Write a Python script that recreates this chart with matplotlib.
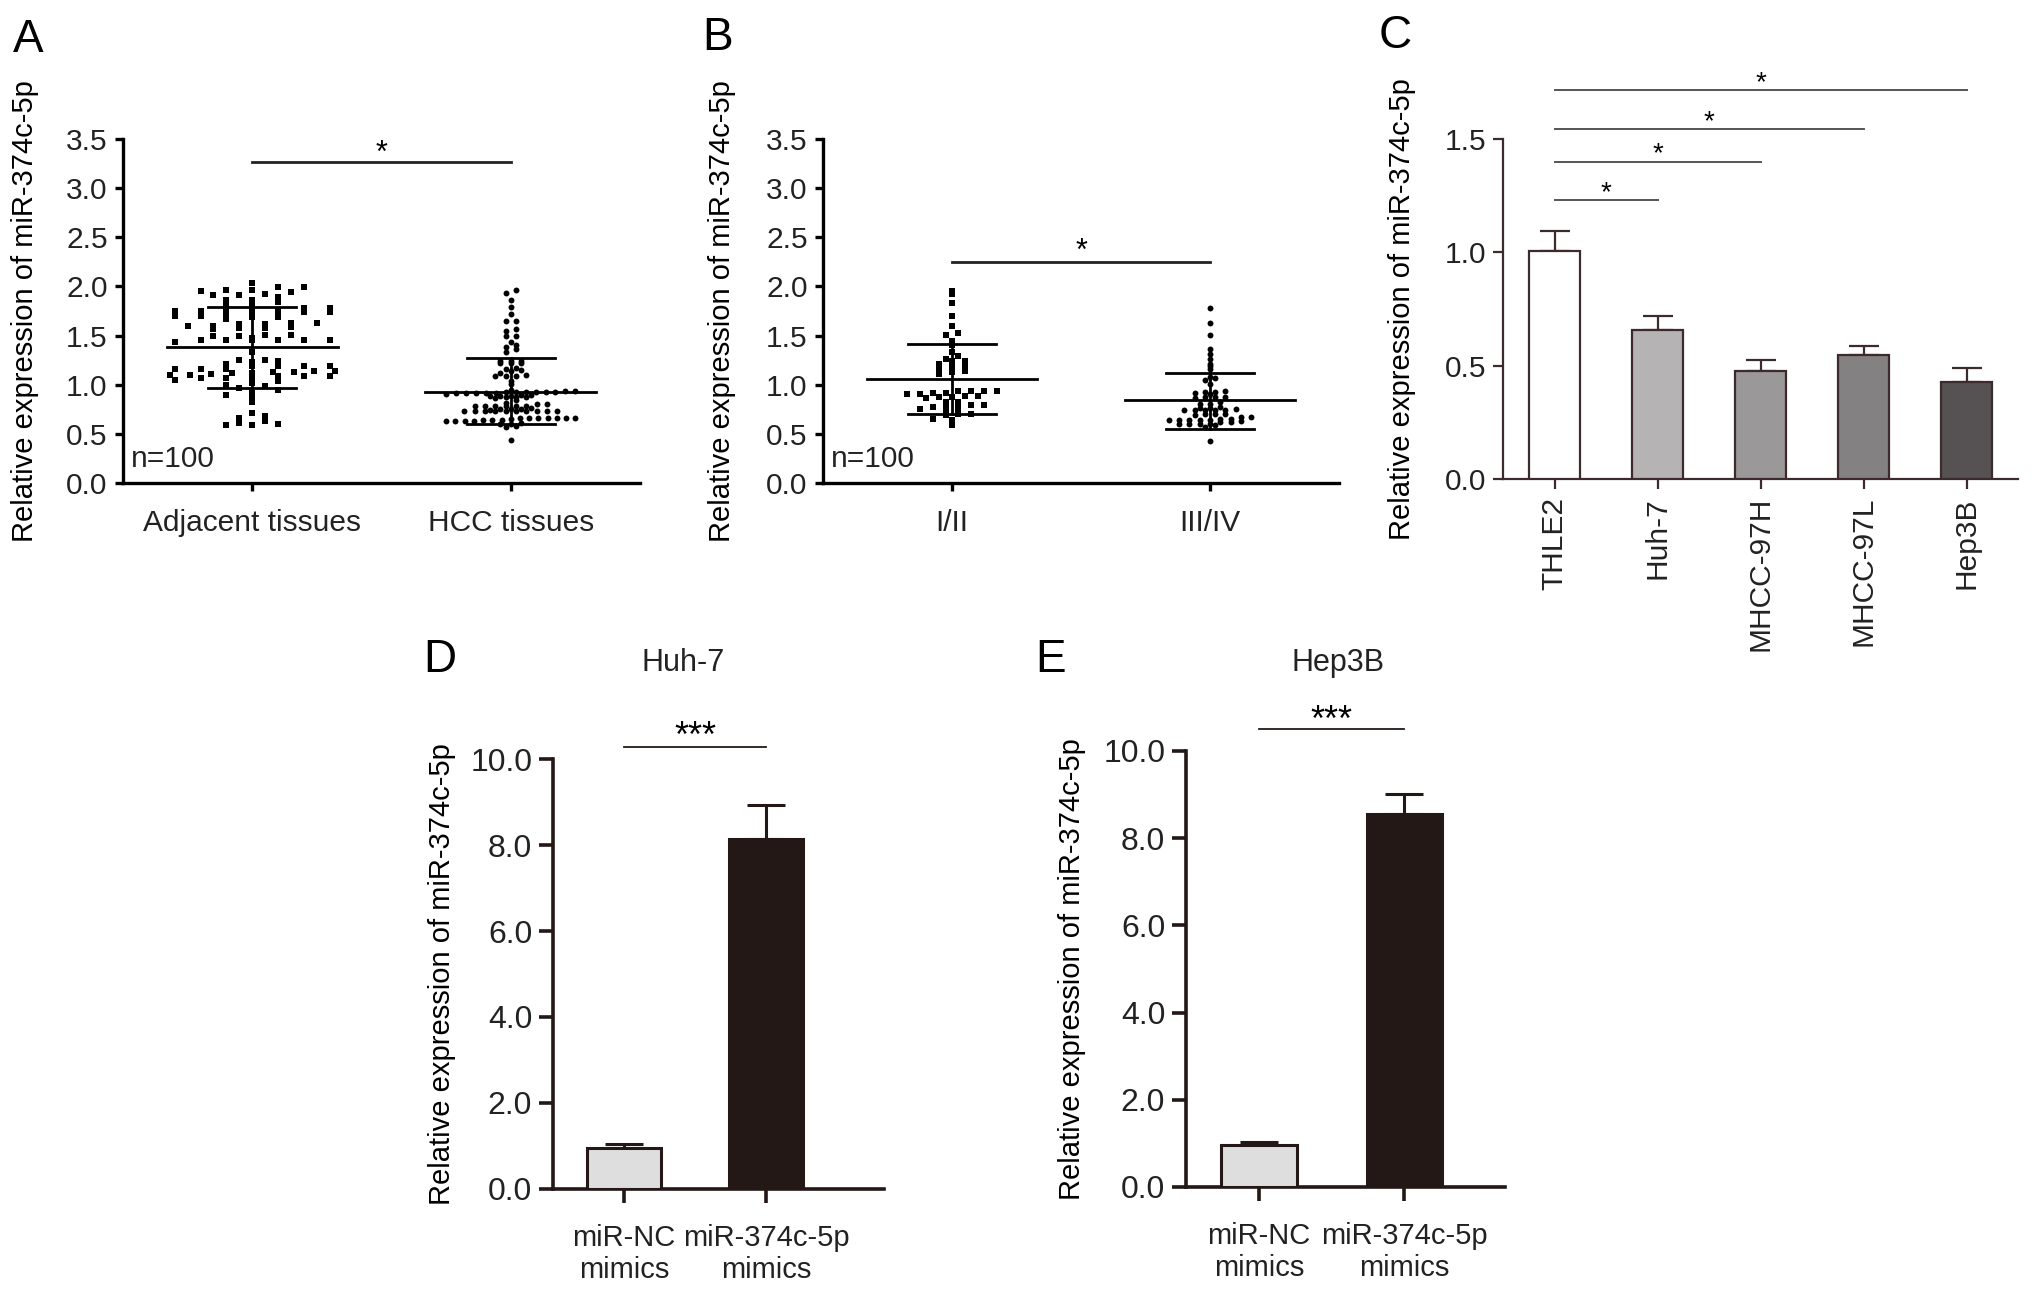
import numpy as np
import matplotlib
matplotlib.use('Agg')
import matplotlib.pyplot as plt

# ---- data ----
adjacent = [1.78, 1.69, 1.13,
            1.74, 1.23, 1.07,
            1.86, 1.78, 1.70, 1.62, 1.45, 1.16, 1.08,
            1.95, 1.75, 1.59, 1.25, 1.14,
            1.91, 1.74, 1.60, 1.51, 1.45, 1.16, 1.10, 1.04, 0.97, 0.92, 0.68, 0.59,
            1.99, 1.92, 1.75, 1.60, 1.51, 1.45, 1.10, 0.87, 0.71, 0.61,
            1.99, 1.84, 1.75, 1.70, 1.63, 1.57, 1.50, 1.43, 1.33, 1.24, 1.19, 1.12,
            1.05, 1.00, 0.90, 0.82, 0.60,
            2.03, 1.94, 1.67, 1.62, 1.50, 1.45, 1.16, 1.09, 1.02, 0.95, 0.66, 0.59,
            1.91, 1.75, 1.69, 1.63, 1.48, 1.19, 1.12, 1.07, 0.99,
            1.96, 1.89, 1.80, 1.72, 1.58, 1.45, 1.21, 1.14, 1.09, 0.63,
            1.96, 1.86, 1.75, 1.58, 1.45, 1.25, 1.19, 1.11,
            1.74, 1.19, 1.09,
            1.80, 1.70, 1.13]
hcc = [1.96, 1.93, 1.86, 1.79, 1.72, 1.65, 1.65, 1.57, 1.55, 1.50, 1.50, 1.43,
       1.40, 1.38, 1.36, 1.33,
       1.24, 1.22, 1.22, 1.24, 1.22, 1.24,
       1.16, 1.17, 1.14, 1.12, 1.15,
       1.09, 1.09, 1.10, 1.09, 1.04, 1.01,
       0.94, 0.92, 0.92, 0.90, 0.93, 0.93, 0.93, 0.93, 0.92, 0.93, 0.92, 0.95, 0.93, 0.94,
       0.90, 0.87, 0.89, 0.86, 0.87, 0.89, 0.87, 0.92, 0.91, 0.89, 0.84,
       0.81, 0.78, 0.78, 0.78, 0.78, 0.80, 0.78, 0.80, 0.76, 0.78,
       0.73, 0.75, 0.74, 0.73, 0.75, 0.75, 0.73, 0.73, 0.73, 0.73, 0.73, 0.73, 0.73, 0.73,
       0.64, 0.66, 0.63, 0.66, 0.63, 0.65, 0.66, 0.66, 0.66, 0.66, 0.66, 0.63, 0.64, 0.64,
       0.57, 0.61, 0.63, 0.58, 0.60, 0.60,
       0.44]
stage12 = [1.95, 1.92, 1.83, 1.70, 1.60, 1.51, 1.53, 1.44, 1.40,
           1.33, 1.26, 1.21, 1.14, 1.24, 1.17, 1.18, 1.29, 1.24, 1.19, 1.13, 1.11,
           0.94, 0.94, 0.89, 0.91, 0.94, 0.87, 0.82, 0.77, 0.92, 0.92, 0.86, 0.91,
           0.94, 0.87, 0.89, 0.82, 0.75, 0.79, 0.72, 0.77, 0.70, 0.64, 0.59, 0.74,
           0.65, 0.79, 0.69, 0.77, 0.70]
stage34 = [1.78, 1.63, 1.51, 1.36, 1.31, 1.26, 1.21, 1.07, 1.01, 0.94, 0.87, 0.80,
           0.74, 0.69, 0.64, 0.59, 0.43,
           1.19, 1.08, 1.16, 1.05,
           0.93, 0.86, 0.87, 0.93, 0.87, 0.91, 0.92, 0.80,
           0.82, 0.74, 0.75, 0.65, 0.65, 0.62, 0.70, 0.64, 0.74, 0.67, 0.60, 0.76,
           0.60, 0.57, 0.77, 0.70, 0.64, 0.74, 0.64, 0.70, 0.60, 0.74, 0.67, 0.60,
           0.76, 0.62, 0.63, 0.64]

# mean and SD lines as drawn (mean, lower, upper)
tissue_stats = [(1.38, 0.97, 1.79), (0.93, 0.60, 1.27)]
stage_stats = [(1.06, 0.70, 1.41), (0.84, 0.55, 1.12)]
tissue_labels = ['Adjacent tissues', 'HCC tissues']
stage_labels = ['I/II', 'III/IV']

cell_lines = ['THLE2', 'Huh-7', 'MHCC-97H', 'MHCC-97L', 'Hep3B']
cell_mean = [1.007, 0.659, 0.478, 0.545, 0.430]
cell_err = [0.086, 0.061, 0.047, 0.042, 0.061]
cell_colors = ['#ffffff', '#b5b3b3', '#9a9898', '#838181', '#565253']
cell_sig_y = [1.229, 1.40, 1.544, 1.716]

mimic_labels = ['miR-NC\nmimics', 'miR-374c-5p\nmimics']
huh7_mean = [0.95, 8.14]
huh7_err = [0.10, 0.78]
hep3b_mean = [0.96, 8.55]
hep3b_err = [0.08, 0.46]

# ---- style ----
plt.rcParams['font.family'] = ['Liberation Sans', 'DejaVu Sans']
plt.rc('font', size=21)
plt.rc('xtick', labelsize=21.5)
plt.rc('ytick', labelsize=21.5)

DARK = '#231815'
W, H = 2032, 1296
fig = plt.figure(figsize=(W / 100, H / 100), dpi=100)


def box(x0, x1, ytop, ybot):
    # pixel box -> figure fractions
    return [x0 / W, 1 - ybot / H, (x1 - x0) / W, (ybot - ytop) / H]


def swarm(vals, bin_h, step, max_w):
    vals = np.asarray(vals, dtype=float)
    xs = np.zeros(len(vals))
    bins = np.floor(vals / bin_h).astype(int)
    for b in np.unique(bins):
        idx = np.where(bins == b)[0]
        idx = idx[np.argsort(vals[idx])]
        k = len(idx)
        s = step if k < 2 else min(step, 2 * max_w / (k - 1))
        xs[idx] = (np.arange(k) - (k - 1) / 2) * s
    return xs


def style_axes(ax, color, lw, ticklen, labelpad_x):
    for side in ['top', 'right']:
        ax.spines[side].set_visible(False)
    for side in ['left', 'bottom']:
        ax.spines[side].set_linewidth(lw)
        ax.spines[side].set_color(color)
    ax.tick_params(axis='both', colors=color, width=lw, length=ticklen,
                   labelcolor='#222222')
    ax.tick_params(axis='y', pad=5)
    ax.tick_params(axis='x', pad=labelpad_x)


def scatter_panel(ax, groups, stats, labels, markers, sizes, swarm_args,
                  sig_y, star_y, ylabel_x):
    for i, vals in enumerate(groups):
        xs = swarm(vals, *swarm_args[i]) + i
        ax.scatter(xs, vals, marker=markers[i], s=sizes[i], color='black',
                   linewidths=0, zorder=3)
        m, lo, hi = stats[i]
        ax.plot([i - 0.33, i + 0.33], [m, m], color='black', lw=2, zorder=4)
        ax.plot([i - 0.17, i + 0.17], [lo, lo], color='black', lw=2, zorder=4)
        ax.plot([i - 0.17, i + 0.17], [hi, hi], color='black', lw=2, zorder=4)
        ax.plot([i, i], [lo, hi], color='black', lw=2, zorder=4)
    ax.plot([0, 1], [sig_y, sig_y], color='#222222', lw=2)
    ax.text(0.5, star_y, '*', ha='center', va='center', fontsize=22)
    ax.set_xlim(-0.5, 1.5)
    ax.set_ylim(0, 3.5)
    ax.set_yticks(np.arange(0, 3.51, 0.5))
    ax.set_yticklabels(['%.1f' % v for v in np.arange(0, 3.51, 0.5)])
    ax.set_xticks([0, 1])
    ax.set_xticklabels(labels)
    ax.set_ylabel('Relative expression of miR-374c-5p', fontsize=21)
    ax.yaxis.set_label_coords(ylabel_x, 0.5)
    ax.text(0.015, 0.07, 'n=100', transform=ax.transAxes, ha='left',
            va='center', fontsize=21.5, color='#222222')
    style_axes(ax, 'black', 2.4, 6, 13)


# ---- A ----
axA = fig.add_axes(box(123, 640, 139, 483))
scatter_panel(axA, [adjacent, hcc], tissue_stats, tissue_labels, ['s', 'o'],
              [20, 18], [(0.05, 0.1, 0.32), (0.035, 0.04, 0.25)],
              3.27, 3.35, (39 - 123) / 517)

# ---- B ----
axB = fig.add_axes(box(823, 1339, 139, 483))
scatter_panel(axB, [stage12, stage34], stage_stats, stage_labels, ['s', 'o'],
              [20, 18], [(0.05, 0.05, 0.3), (0.04, 0.04, 0.3)],
              2.25, 2.35, (736 - 823) / 516)

# ---- C ----
axC = fig.add_axes(box(1503, 2018, 139, 479))
xc = np.arange(len(cell_lines))
axC.bar(xc, cell_mean, width=0.5, color=cell_colors, edgecolor='#3c2a2c',
        linewidth=1.6, zorder=3)
axC.errorbar(xc, cell_mean, yerr=[np.zeros(len(xc)), cell_err], fmt='none',
             ecolor='#3c2a2c', elinewidth=1.6, capsize=11, capthick=1.6, zorder=2)
for j, y in enumerate(cell_sig_y):
    axC.plot([0, j + 1], [y, y], color='#555555', lw=1.4, clip_on=False)
    axC.text((j + 1) / 2, y + 0.032, '*', ha='center', va='center',
             fontsize=20, clip_on=False)
axC.set_xlim(-0.5, 4.5)
axC.set_ylim(0, 1.5)
axC.set_yticks([0, 0.5, 1.0, 1.5])
axC.set_yticklabels(['0.0', '0.5', '1.0', '1.5'])
axC.set_xticks(xc)
axC.set_xticklabels(cell_lines, rotation=90, ha='center', va='top')
axC.set_ylabel('Relative expression of miR-374c-5p', fontsize=21)
axC.yaxis.set_label_coords((1416 - 1503) / 515, 0.5)
style_axes(axC, '#3c2a2c', 1.6, 7, 6)


# ---- D and E ----
def mimic_panel(ax, means, errs, title, title_x, title_y, sig_y, star_y,
                xmax, ylabel_x):
    x = np.arange(2)
    ax.bar(x, means, width=0.52, color=['#dedede', DARK], edgecolor=DARK,
           linewidth=2.2, zorder=3)
    ax.errorbar(x, means, yerr=[np.zeros(2), errs], fmt='none', ecolor=DARK,
                elinewidth=2.2, capsize=14, capthick=2.2, zorder=2)
    ax.plot([0, 1], [sig_y, sig_y], color=DARK, lw=1.3, clip_on=False)
    ax.text(0.5, star_y, '***', ha='center', va='center', fontsize=26,
            clip_on=False)
    ax.set_xlim(-0.5, xmax)
    ax.set_ylim(0, 10)
    ax.set_yticks(np.arange(0, 10.1, 2))
    ax.set_yticklabels(['%.1f' % v for v in np.arange(0, 10.1, 2)],
                       fontsize=23)
    ax.set_xticks(x)
    ax.set_xticklabels(mimic_labels, linespacing=1.2, fontsize=21)
    ax.set_ylabel('Relative expression of miR-374c-5p', fontsize=21)
    ax.yaxis.set_label_coords(ylabel_x, 0.5)
    ax.text(title_x, title_y, title, transform=ax.transAxes, ha='center',
            va='center', fontsize=22, color='#222222')
    style_axes(ax, DARK, 2.6, 10, 15)


axD = fig.add_axes(box(553, 884, 759, 1189))
mimic_panel(axD, huh7_mean, huh7_err, 'Huh-7', (683 - 553) / 331, 1.223,
            10.27, 10.5, 1.83, (456 - 553) / 331)
axE = fig.add_axes(box(1186, 1505, 751, 1187))
mimic_panel(axE, hep3b_mean, hep3b_err, 'Hep3B', (1338 - 1186) / 319, 1.202,
            10.5, 10.67, 1.69, (1086 - 1186) / 319)

# panel letters
for letter, px, py in [('A', 13, 52), ('B', 702, 50), ('C', 1379, 48),
                       ('D', 423, 672), ('E', 1035, 672)]:
    fig.text(px / W, 1 - py / H, letter, fontsize=33, ha='left', va='baseline')

fig.savefig('out.png', dpi=100)
